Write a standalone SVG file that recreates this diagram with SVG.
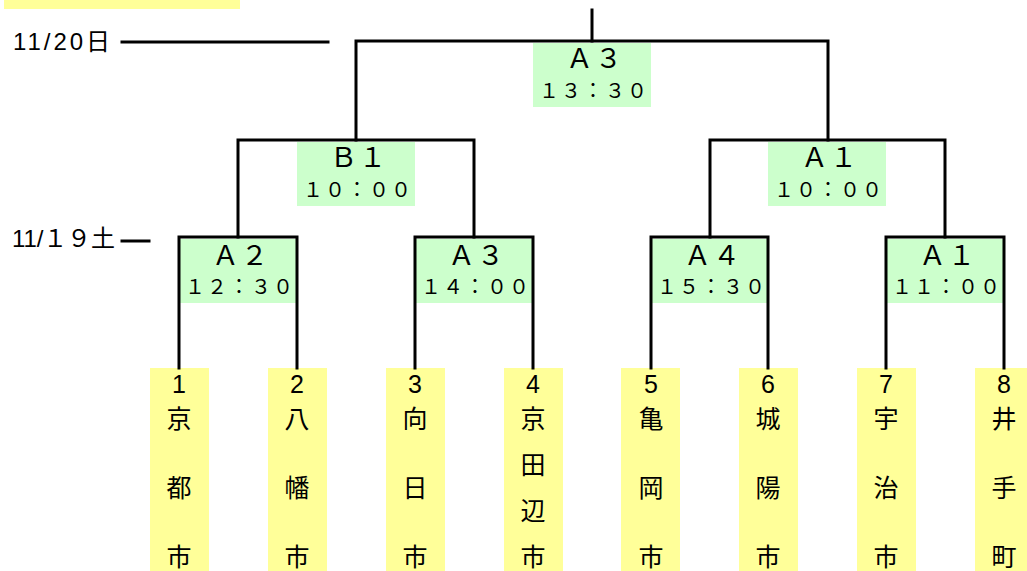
<svg xmlns="http://www.w3.org/2000/svg" width="1027" height="571" viewBox="0 0 1027 571">
<style>
.ln{stroke:#000;stroke-width:3;fill:none;stroke-linecap:square}
.mb{fill:#ccffcc}
.tb{fill:#ffff99}
.lt{font-family:"Noto Sans CJK JP",sans-serif;font-size:27px;fill:#000;text-anchor:middle}
.tm{font-family:"Noto Sans CJK JP",sans-serif;font-size:20px;fill:#000;text-anchor:middle}
.tn{font-family:"Liberation Sans","Noto Sans CJK JP",sans-serif;font-size:25px;fill:#000;text-anchor:middle}
.dt{font-family:"Liberation Sans","Noto Sans CJK JP",sans-serif;font-size:24px;fill:#000}
</style>
<rect x="4" y="0" width="236" height="9" class="tb"/>
<g id="dates">
<text class="dt" x="13" y="50" textLength="97" lengthAdjust="spacing">11/20日</text>
<text class="dt" x="12" y="247" textLength="103" lengthAdjust="spacing">11/１９土</text>
</g>
<g id="match-final">
<rect class="mb" x="533" y="43" width="118" height="64"/>
<text class="lt" x="594" y="68" textLength="56" lengthAdjust="spacing">Ａ３</text>
<text class="tm" x="593" y="98" textLength="108" lengthAdjust="spacing">１３：３０</text>
</g>
<g id="match-b1">
<rect class="mb" x="297" y="142" width="118" height="64"/>
<text class="lt" x="358" y="167" textLength="56" lengthAdjust="spacing">Ｂ１</text>
<text class="tm" x="357" y="197" textLength="108" lengthAdjust="spacing">１０：００</text>
</g>
<g id="match-a1-semi">
<rect class="mb" x="768" y="142" width="118" height="64"/>
<text class="lt" x="829" y="167" textLength="56" lengthAdjust="spacing">Ａ１</text>
<text class="tm" x="828" y="197" textLength="108" lengthAdjust="spacing">１０：００</text>
</g>
<g id="match-a2">
<rect class="mb" x="179" y="239" width="118" height="64"/>
<text class="lt" x="240" y="265" textLength="56" lengthAdjust="spacing">Ａ２</text>
<text class="tm" x="239" y="294" textLength="108" lengthAdjust="spacing">１２：３０</text>
</g>
<g id="match-a3">
<rect class="mb" x="415" y="239" width="118" height="64"/>
<text class="lt" x="476" y="265" textLength="56" lengthAdjust="spacing">Ａ３</text>
<text class="tm" x="475" y="294" textLength="108" lengthAdjust="spacing">１４：００</text>
</g>
<g id="match-a4">
<rect class="mb" x="651" y="239" width="118" height="64"/>
<text class="lt" x="712" y="265" textLength="56" lengthAdjust="spacing">Ａ４</text>
<text class="tm" x="711" y="294" textLength="108" lengthAdjust="spacing">１５：３０</text>
</g>
<g id="match-a1">
<rect class="mb" x="886" y="239" width="118" height="64"/>
<text class="lt" x="947" y="265" textLength="56" lengthAdjust="spacing">Ａ１</text>
<text class="tm" x="946" y="294" textLength="108" lengthAdjust="spacing">１１：００</text>
</g>
<g id="team-1"><rect class="tb" x="150" y="368" width="59" height="203"/>
<text class="tn" x="179" y="393">1</text><text class="tn" x="179" y="428">京</text><text class="tn" x="179" y="497">都</text><text class="tn" x="179" y="566">市</text></g>
<g id="team-2"><rect class="tb" x="268" y="368" width="59" height="203"/>
<text class="tn" x="297" y="393">2</text><text class="tn" x="297" y="428">八</text><text class="tn" x="297" y="497">幡</text><text class="tn" x="297" y="566">市</text></g>
<g id="team-3"><rect class="tb" x="386" y="368" width="59" height="203"/>
<text class="tn" x="415" y="393">3</text><text class="tn" x="415" y="428">向</text><text class="tn" x="415" y="497">日</text><text class="tn" x="415" y="566">市</text></g>
<g id="team-4"><rect class="tb" x="504" y="368" width="59" height="203"/>
<text class="tn" x="533" y="393">4</text><text class="tn" x="533" y="428">京</text><text class="tn" x="533" y="474">田</text><text class="tn" x="533" y="520">辺</text><text class="tn" x="533" y="566">市</text></g>
<g id="team-5"><rect class="tb" x="621" y="368" width="59" height="203"/>
<text class="tn" x="651" y="393">5</text><text class="tn" x="651" y="428">亀</text><text class="tn" x="651" y="497">岡</text><text class="tn" x="651" y="566">市</text></g>
<g id="team-6"><rect class="tb" x="739" y="368" width="59" height="203"/>
<text class="tn" x="768" y="393">6</text><text class="tn" x="768" y="428">城</text><text class="tn" x="768" y="497">陽</text><text class="tn" x="768" y="566">市</text></g>
<g id="team-7"><rect class="tb" x="857" y="368" width="59" height="203"/>
<text class="tn" x="886" y="393">7</text><text class="tn" x="886" y="428">宇</text><text class="tn" x="886" y="497">治</text><text class="tn" x="886" y="566">市</text></g>
<g id="team-8"><rect class="tb" x="975" y="368" width="59" height="203"/>
<text class="tn" x="1004" y="393">8</text><text class="tn" x="1004" y="428">井</text><text class="tn" x="1004" y="497">手</text><text class="tn" x="1004" y="566">町</text></g>
<g id="connectors" class="ln">
<path d="M122 42H328"/>
<path d="M122 241H149"/>
<path d="M592 10V41"/>
<path d="M356 140V41H828V140"/>
<path d="M238 237V140H474V237"/>
<path d="M710 237V140H945V237"/>
<path d="M179 368V237H297V368"/>
<path d="M415 368V237H533V368"/>
<path d="M651 368V237H768V368"/>
<path d="M886 368V237H1004V368"/>
</g>
</svg>
